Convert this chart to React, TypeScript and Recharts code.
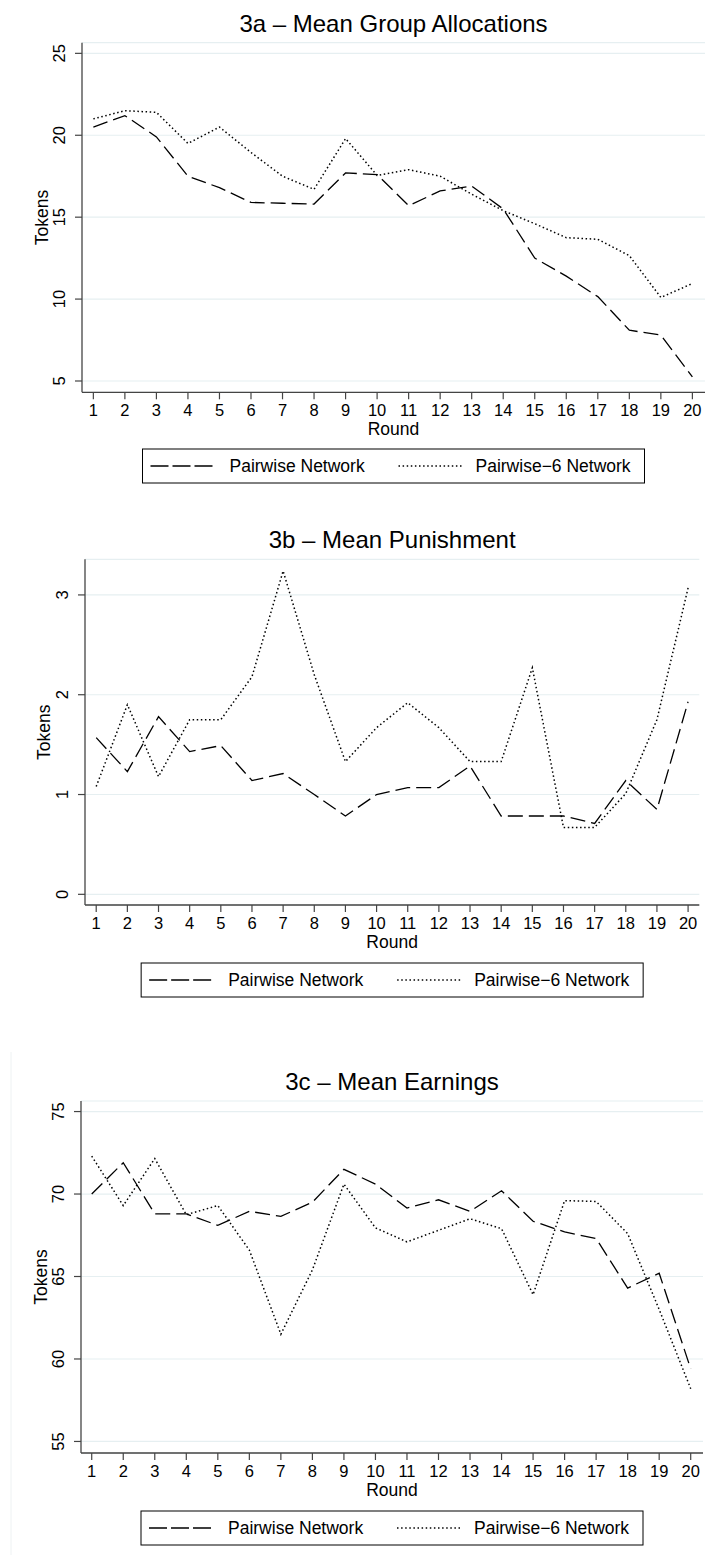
import React from "react";
import { LineChart, Line, XAxis, YAxis, CartesianGrid } from "recharts";

const rounds = [1, 2, 3, 4, 5, 6, 7, 8, 9, 10, 11, 12, 13, 14, 15, 16, 17, 18, 19, 20];

const allocPairwise = [20.5, 21.2, 19.9, 17.5, 16.8, 15.9, 15.85, 15.8, 17.7, 17.6, 15.7, 16.6, 16.9, 15.5, 12.5, 11.4, 10.15, 8.1, 7.8, 5.25];
const allocPairwise6 = [21.0, 21.5, 21.4, 19.5, 20.5, 18.95, 17.5, 16.7, 19.8, 17.55, 17.9, 17.5, 16.4, 15.4, 14.6, 13.75, 13.65, 12.65, 10.1, 10.95];

const punishPairwise = [1.57, 1.23, 1.78, 1.43, 1.49, 1.14, 1.21, 1.0, 0.785, 1.0, 1.07, 1.07, 1.285, 0.785, 0.785, 0.785, 0.71, 1.14, 0.85, 1.93];
const punishPairwise6 = [1.08, 1.9, 1.18, 1.75, 1.75, 2.18, 3.24, 2.2, 1.33, 1.67, 1.92, 1.67, 1.33, 1.33, 2.27, 0.67, 0.67, 1.01, 1.75, 3.07];

const earnPairwise = [70.0, 71.9, 68.8, 68.8, 68.1, 68.95, 68.65, 69.5, 71.5, 70.6, 69.15, 69.65, 68.95, 70.2, 68.35, 67.7, 67.3, 64.3, 65.2, 59.4];
const earnPairwise6 = [72.3, 69.3, 72.15, 68.75, 69.3, 66.6, 61.5, 65.4, 70.6, 67.95, 67.1, 67.8, 68.5, 67.9, 63.9, 69.6, 69.55, 67.6, 63.0, 58.2];

const allocTicks = [5, 10, 15, 20, 25];
const punishTicks = [0, 1, 2, 3];
const earnTicks = [55, 60, 65, 70, 75];

const seriesNames = ["Pairwise Network", "Pairwise\u22126 Network"];
const titles = ["3a \u2013 Mean Group Allocations", "3b \u2013 Mean Punishment", "3c \u2013 Mean Earnings"];

const FONT = "'Liberation Sans', Arial, Helvetica, sans-serif";
const DASH = "15 6";
const DOT = "1.5 2.6";
const AXIS = "#444";
const GRID = "#e6eff1";

function build(a: number[], b: number[]) {
  return rounds.map((r, i) => ({ round: r, pw: a[i], pw6: b[i] }));
}

const XTick = (props: any) => {
  const { x, y, payload } = props;
  return (
    <text x={x} y={y + 17} textAnchor="middle" fontSize={16.5} fontFamily={FONT} fill="#000">
      {payload.value}
    </text>
  );
};

const YTick = (props: any) => {
  const { x, y, payload } = props;
  return (
    <text x={x} y={y} transform={`rotate(-90 ${x} ${y})`} textAnchor="middle" fontSize={16.5} fontFamily={FONT} fill="#000">
      {payload.value}
    </text>
  );
};

type PanelSpec = {
  top: number;
  plotTop: number;
  plotBottom: number;
  plotLeft: number;
  plotRight: number;
  yDomain: [number, number];
  xDomain: [number, number];
  yTicks: number[];
  data: any[];
};

const panels: PanelSpec[] = [
  { top: 0, plotTop: 42.7, plotBottom: 392.3, plotLeft: 82, plotRight: 705, yDomain: [4.31, 25.65], xDomain: [0.64, 20.4], yTicks: allocTicks, data: build(allocPairwise, allocPairwise6) },
  { top: 500, plotTop: 559.3, plotBottom: 905, plotLeft: 85, plotRight: 699.3, yDomain: [-0.107, 3.357], xDomain: [0.64, 20.36], yTicks: punishTicks, data: build(punishPairwise, punishPairwise6) },
  { top: 1050, plotTop: 1101, plotBottom: 1453, plotLeft: 81, plotRight: 703, yDomain: [54.3, 75.64], xDomain: [0.66, 20.39], yTicks: earnTicks, data: build(earnPairwise, earnPairwise6) },
];

const legendTops = [449, 963, 1511];

function Panel({ p }: { p: PanelSpec }) {
  const height = p.plotBottom - p.top + 45;
  return (
    <div style={{ position: "absolute", left: 0, top: p.top }}>
      <LineChart
        width={709}
        height={height}
        data={p.data}
        margin={{ top: p.plotTop - p.top, right: 709 - p.plotRight, bottom: 5, left: 0 }}
      >
        <CartesianGrid horizontal={true} vertical={false} stroke={GRID} strokeWidth={1.2} />
        <XAxis
          dataKey="round"
          type="number"
          domain={p.xDomain}
          ticks={rounds}
          allowDataOverflow
          interval={0}
          height={40}
          tickSize={7}
          tickMargin={0}
          tick={<XTick />}
          axisLine={{ stroke: AXIS, strokeWidth: 1.3 }}
          tickLine={{ stroke: AXIS, strokeWidth: 1.2 }}
        />
        <YAxis
          type="number"
          domain={p.yDomain}
          ticks={p.yTicks}
          allowDataOverflow
          interval={0}
          width={p.plotLeft}
          tickSize={7}
          tickMargin={9.5}
          tick={<YTick />}
          axisLine={{ stroke: AXIS, strokeWidth: 1.3 }}
          tickLine={{ stroke: AXIS, strokeWidth: 1.2 }}
        />
        <Line type="linear" dataKey="pw" name={seriesNames[0]} stroke="#000" strokeWidth={1.3} strokeDasharray={DASH} dot={false} activeDot={false} isAnimationActive={false} />
        <Line type="linear" dataKey="pw6" name={seriesNames[1]} stroke="#000" strokeWidth={1.5} strokeDasharray={DOT} dot={false} activeDot={false} isAnimationActive={false} />
      </LineChart>
    </div>
  );
}

function Overlay() {
  return (
    <svg width={709} height={1555} style={{ position: "absolute", left: 0, top: 0, pointerEvents: "none" }}>
      <line x1={11} y1={1052} x2={11} y2={1555} stroke="#eef2f3" strokeWidth={1} />
      {panels.map((p, i) => {
        const cx = (p.plotLeft + p.plotRight) / 2;
        const cy = (p.plotTop + p.plotBottom) / 2;
        const titleY = p.plotTop - 11.2;
        const lx = p.plotLeft - 34.5;
        const lt = legendTops[i];
        const bx = cx - 251;
        return (
          <g key={i} fontFamily={FONT} fill="#000">
            <text x={cx} y={titleY} textAnchor="middle" fontSize={24}>{titles[i]}</text>
            <text x={lx} y={cy} transform={`rotate(-90 ${lx} ${cy})`} textAnchor="middle" fontSize={17.5}>Tokens</text>
            <text x={cx} y={p.plotBottom + 43} textAnchor="middle" fontSize={17.5}>Round</text>
            <rect x={bx} y={lt} width={502} height={34} fill="#fff" stroke="#000" strokeWidth={1} />
            <line x1={bx + 8} y1={lt + 17} x2={bx + 71} y2={lt + 17} stroke="#000" strokeWidth={1.3} strokeDasharray="18 4" />
            <text x={bx + 87} y={lt + 23.3} fontSize={17.5}>{seriesNames[0]}</text>
            <line x1={bx + 256} y1={lt + 17} x2={bx + 319} y2={lt + 17} stroke="#000" strokeWidth={1.5} strokeDasharray={DOT} />
            <text x={bx + 333} y={lt + 23.3} fontSize={17.5}>{seriesNames[1]}</text>
          </g>
        );
      })}
    </svg>
  );
}

export default function App() {
  return (
    <div style={{ position: "absolute", left: 0, top: 0, width: 709, height: 1555, background: "#fff", overflow: "hidden" }}>
      {panels.map((p, i) => (
        <Panel key={i} p={p} />
      ))}
      <Overlay />
    </div>
  );
}
